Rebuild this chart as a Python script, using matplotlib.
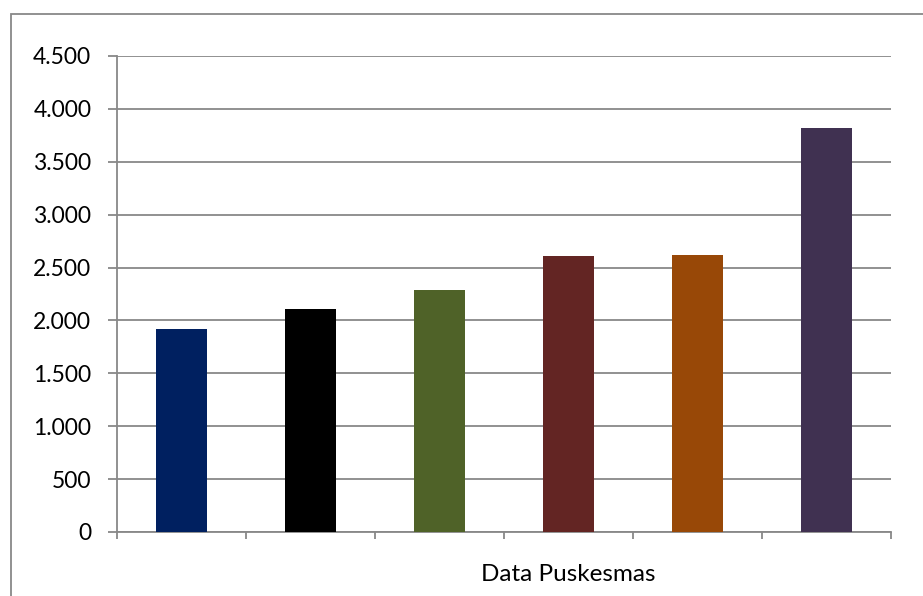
import matplotlib.pyplot as plt
from matplotlib.patches import Rectangle
from matplotlib.ticker import FuncFormatter

# Jumlah per puskesmas
values = [1920, 2108, 2288, 2608, 2617, 3815]
colors = ["#002060", "#000000", "#4F6228", "#632523", "#984807", "#403151"]
xlabel = "Data Puskesmas"

plt.rcParams["font.family"] = ["Lato", "DejaVu Sans"]

fig = plt.figure(figsize=(9.23, 5.96), dpi=100)
ax = fig.add_axes([117 / 923, 1 - 532 / 596, (891 - 117) / 923, (532 - 56) / 596])

# frame around the chart area
fig.patches.append(Rectangle((10.5 / 923, -0.1), 1.2, 1.1 - 13.5 / 596,
                             transform=fig.transFigure, fill=False,
                             edgecolor="#888888", linewidth=1.3))

x = range(len(values))
ax.bar(x, values, width=0.4, color=colors, zorder=3)

ax.set_xlim(-0.5, len(values) - 0.5)
ax.set_ylim(0, 4500)
ax.set_yticks(range(0, 4501, 500))
ax.yaxis.set_major_formatter(FuncFormatter(lambda v, p: f"{int(v):,}".replace(",", ".")))
ax.set_xticks([i - 0.5 for i in range(len(values) + 1)])
ax.set_xticklabels([])

ax.grid(axis="y", color="#888888", linewidth=1.3, zorder=0)
for side in ["top", "right"]:
    ax.spines[side].set_visible(False)
for side in ["left", "bottom"]:
    ax.spines[side].set_color("#888888")
    ax.spines[side].set_linewidth(1.3)

ax.tick_params(axis="y", length=6.5, width=1.3, color="#888888", pad=12, labelsize=16.5)
ax.tick_params(axis="x", length=5, width=1.3, color="#888888")

ax.text(3, -0.09, xlabel, transform=ax.get_xaxis_transform(),
        ha="center", va="center", fontsize=17.5)

fig.savefig("out.png", dpi=100)
